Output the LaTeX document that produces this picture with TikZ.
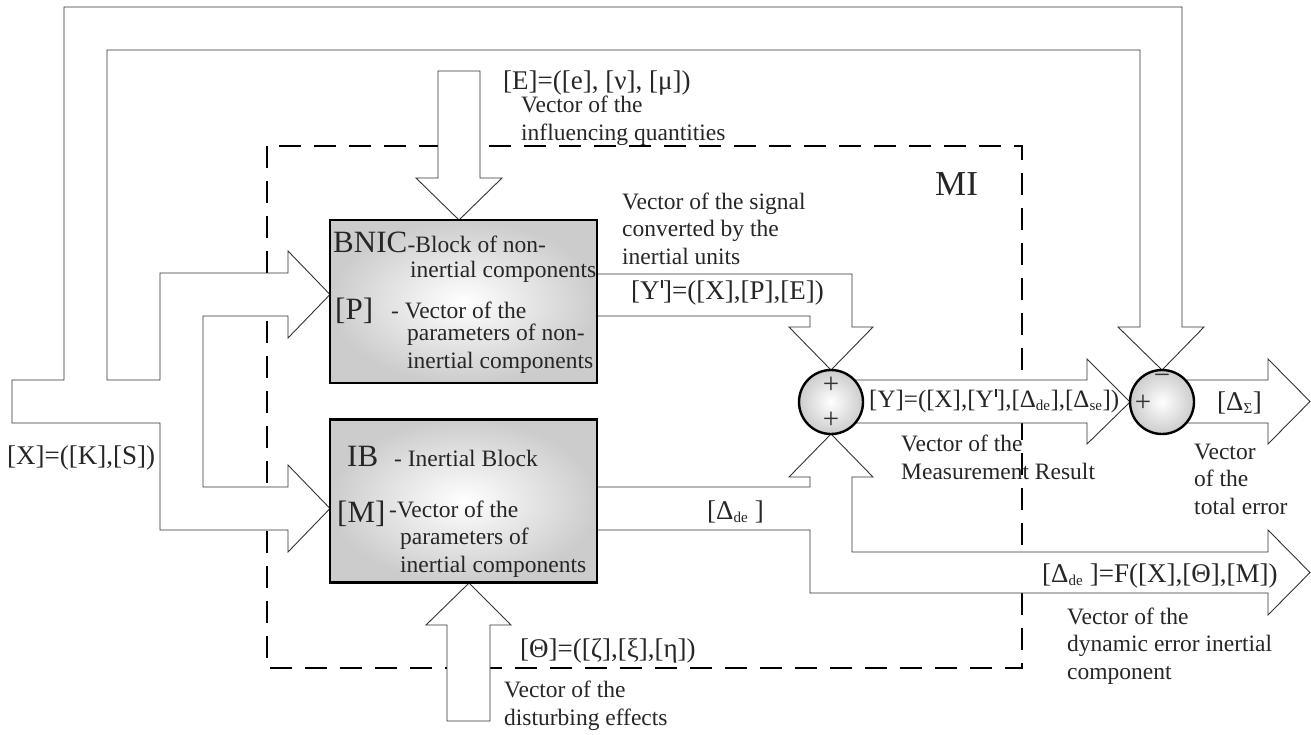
\documentclass[tikz,border=0pt]{standalone}
\usepackage{fontspec}
\setmainfont{Liberation Serif}
\pgfdeclarelayer{back}
\pgfdeclarelayer{background}
\pgfsetlayers{back,background,main}
\newcommand\descfont{\fontsize{23.5}{27.5}\selectfont}
\newcommand\formfont{\fontsize{27}{30}\selectfont}
\newcommand\namefont{\fontsize{31}{33}\selectfont}
\newcommand\mifont{\fontsize{35}{36}\selectfont}
\newcommand\yprime{\kern0.04em\rule[0.42em]{0.09em}{0.3em}}
\newcommand\lowsub[1]{\textsubscript{\fontsize{15}{15}\selectfont #1}}
\begin{document}
\begin{tikzpicture}[
    x=1pt, y=-1pt,
    band/.style={draw=black!80, line width=0.9pt, fill=white, line join=miter},
    block/.style={draw=black, line width=2.4pt, inner color=white, outer color=gray!40, minimum width=267pt, minimum height=163pt, inner sep=0pt, outer sep=0pt},
    summer/.style={circle, draw=black, line width=2.4pt, inner color=white, outer color=gray!40, minimum size=64pt, inner sep=0pt, outer sep=0pt},
    mibox/.style={draw=black, line width=2.5pt, dash pattern=on 22pt off 13pt},
    txt/.style={inner sep=0pt, text=black!85, font=\descfont, align=left, anchor=base west},
    form/.style={inner sep=0pt, text=black!85, font=\formfont, anchor=base west},
    bigname/.style={inner sep=0pt, text=black!85, font=\namefont, anchor=base west},
    sign/.style={inner sep=0pt, text=black!80, font=\fontsize{29}{29}\selectfont}
]
\useasboundingbox (0,0) rectangle (1311,734);

% blocks and summing points
\node[block] (bnic) at (463.5,301.5) {};
\node[block] (ib) at (463.5,501) {};
\node[summer] (sum1) at (831,402) {};
\node[summer] (sum2) at (1162,402) {};

% measuring instrument boundary
\begin{pgfonlayer}{back}
\draw[mibox] (267,146) rectangle (1022,668);
\end{pgfonlayer}

% signal bands
\begin{pgfonlayer}{background}
\draw[band] (12,380) -- (64,380) -- (64,7) -- (1182,7) -- (1182,327) -- (1204,327) -- (sum2.north)
    -- (1118,327) -- (1140,327) -- (1140,50) -- (107,50) -- (107,380) -- (160,380) -- (160,273)
    -- (288,273) -- (288,251) -- (bnic.west |- 0,294.5) -- (288,338) -- (288,316) -- (203,316)
    -- (203,487) -- (288,487) -- (288,465) -- (ib.west |- 0,508.5) -- (288,552) -- (288,530)
    -- (160,530) -- (160,423) -- (12,423) -- cycle;
\draw[band] (bnic.east |- 0,274) -- (852,274) -- (852,327) -- (873,327) -- (sum1.north)
    -- (789,327) -- (810,327) -- (810,316) -- (bnic.east |- 0,316) -- cycle;
\draw[band] (ib.east |- 0,487) -- (810,487) -- (810,477) -- (789,477) -- (sum1.south)
    -- (873,477) -- (852,477) -- (852,552) -- (1268,552) -- (1268,530) -- (1310,572.5)
    -- (1268,615) -- (1268,593) -- (810,593) -- (810,530) -- (ib.east |- 0,530) -- cycle;
\draw[band] (sum1) ++(0,-22) -- (1087,380) -- (1087,359) -- (sum2.west) -- (1087,444)
    -- (1087,423) -- (831,423) -- cycle;
\draw[band] (sum2) ++(0,-22) -- (1268,380) -- (1268,359) -- (1310,401.5) -- (1268,444)
    -- (1268,423) -- (1162,423) -- cycle;
\draw[band] (438,71) -- (480,71) -- (480,178) -- (502,178) -- (459,220) -- (416,178)
    -- (438,178) -- cycle;
\draw[band] (447,721) -- (490,721) -- (490,625) -- (511,625) -- (469,583) -- (426,625)
    -- (447,625) -- cycle;
\end{pgfonlayer}

% signs
\node[sign] (plus1) at (831,385) {+};
\node[sign] (plus2) at (831,420) {+};
\node[sign] (minus3) at (1162,379) {−};
\node[sign] (plus3) at (1143,403) {+};

% labels (multi-line ones sit on the baseline of their last line)
\node[bigname, font=\mifont] (milbl) at (935,195) {MI};
\node[form] (eform) at (503,89) {[E]=([e], [ν], [μ])};
\node[txt] (edesc) at (521,140) {Vector of the\\influencing quantities};
\node[txt] (ypdesc) at (622,264) {Vector of the signal\\converted by the\\inertial units};
\node[form] (ypform) at (631,299) {[Y\yprime]=([X],[P],[E])};
\node[bigname] (bnicname) at (333,252) {BNIC};
\node[txt] (bnicdef) at (bnicname.base east) {-Block of non-};
\node[txt] (bnicdef2) at (410,277) {inertial components};
\node[bigname] (pname) at (335,319) {[P]};
\node[txt] (pdef) at (391,318) {- Vector of the};
\node[txt] (pdef2) at (407,368) {parameters of non-\\inertial components};
\node[bigname] (ibname) at (347,466) {IB};
\node[txt] (ibdef) at (394,466) {- Inertial Block};
\node[bigname] (mname) at (337,522) {[M]};
\node[txt] (mdef) at (389,517) {-Vector of the};
\node[txt] (mdef2) at (400,572) {parameters of\\inertial components};
\node[form] (xform) at (7,464) {[X]=([K],[S])};
\node[form] (ddeform) at (707,519) {[Δ\lowsub{de} ]};
\node[form, font=\fontsize{25}{28}\selectfont] (yform) at (869,407) {[Y]=([X],[Y\yprime],[Δ\lowsub{de}],[Δ\lowsub{se}])};
\node[txt] (ydesc) at (901,479) {Vector of the\\Measurement Result};
\node[form] (dsig) at (1217,410) {[Δ\lowsub{Σ}]};
\node[txt] (tdesc) at (1194,514) {Vector\\of the\\total error};
\node[form] (dform) at (1042,582) {[Δ\lowsub{de} ]=F([X],[Θ],[M])};
\node[txt] (ddesc) at (1067,679) {Vector of the\\dynamic error inertial\\component};
\node[form] (thform) at (520,657) {[Θ]=([ζ],[ξ],[η])};
\node[txt] (thdesc) at (504,725) {Vector of the\\disturbing effects};
\end{tikzpicture}
\end{document}
